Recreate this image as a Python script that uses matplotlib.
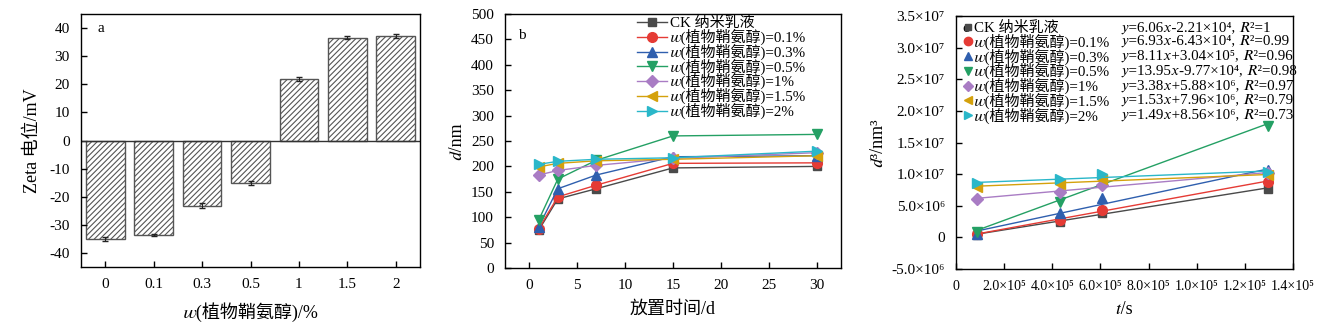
import numpy as np
import matplotlib
matplotlib.use('Agg')
import matplotlib.pyplot as plt
from matplotlib.lines import Line2D

plt.rcParams['font.family'] = ['Liberation Serif', 'STIXGeneral', 'DejaVu Serif', 'Noto Sans CJK SC']
plt.rcParams['hatch.linewidth'] = 0.8
plt.rcParams['hatch.color'] = '#333333'

# panel a: zeta potential
conc_labels = ['0', '0.1', '0.3', '0.5', '1', '1.5', '2']
zeta = [-35.2, -33.6, -23.2, -15.2, 21.8, 36.6, 37.2]
zeta_err = [0.7, 0.3, 0.9, 0.7, 0.8, 0.6, 0.8]

# panel b: particle size vs storage days
days = [1, 3, 7, 15, 30]
series_names = ['CK 纳米乳液', '𝑤(植物鞘氨醇)=0.1%', '𝑤(植物鞘氨醇)=0.3%',
                '𝑤(植物鞘氨醇)=0.5%', '𝑤(植物鞘氨醇)=1%', '𝑤(植物鞘氨醇)=1.5%',
                '𝑤(植物鞘氨醇)=2%']
d_ck = [74, 136, 156, 197, 200]
d_01 = [77, 140, 163, 206, 207]
d_03 = [81, 156, 183, 219, 221]
d_05 = [94, 175, 212, 260, 263]
d_1 = [183, 192, 202, 216, 227]
d_15 = [199, 206, 211, 214, 221]
d_2 = [204, 210, 214, 217, 230]
d_all = [d_ck, d_01, d_03, d_05, d_1, d_15, d_2]

# panel c: d^3 vs time (s)
t_sec = [86400, 432000, 604800, 1296000]
c_ck = [0.45e6, 2.5e6, 3.9e6, 7.7e6]
c_01 = [0.48e6, 2.75e6, 4.3e6, 8.8e6]
c_03 = [0.5e6, 3.8e6, 6.2e6, 10.7e6]
c_05 = [0.8e6, 5.55e6, 9.0e6, 17.6e6]
c_1 = [6.1e6, 7.15e6, 8.3e6, 10.1e6]
c_15 = [7.9e6, 8.5e6, 9.3e6, 9.9e6]
c_2 = [8.55e6, 9.2e6, 9.95e6, 10.3e6]
c_all = [c_ck, c_01, c_03, c_05, c_1, c_15, c_2]
slopes = [6.06, 6.93, 8.11, 13.95, 3.38, 1.53, 1.49]
intercepts = [-2.21e4, -6.43e4, 3.04e5, -9.77e4, 5.88e6, 7.96e6, 8.56e6]
equations = ['𝑦=6.06𝑥-2.21×10⁴, 𝑅²=1',
             '𝑦=6.93𝑥-6.43×10⁴, 𝑅²=0.99',
             '𝑦=8.11𝑥+3.04×10⁵, 𝑅²=0.96',
             '𝑦=13.95𝑥-9.77×10⁴, 𝑅²=0.98',
             '𝑦=3.38𝑥+5.88×10⁶, 𝑅²=0.97',
             '𝑦=1.53𝑥+7.96×10⁶, 𝑅²=0.79',
             '𝑦=1.49𝑥+8.56×10⁶, 𝑅²=0.73']
c_xticklabels = ['0', '2.0×10⁵', '4.0×10⁵', '6.0×10⁵', '8.0×10⁵', '1.0×10⁵', '1.2×10⁵', '1.4×10⁵']
c_yticklabels = ['-5.0×10⁶', '0', '5.0×10⁶', '1.0×10⁷', '1.5×10⁷', '2.0×10⁷', '2.5×10⁷',
                 '3.0×10⁷', '3.5×10⁷']

colors = ['#4a4a4a', '#e53b35', '#2f5fae', '#24a064', '#a97cc4', '#d4a10c', '#2ab7c9']
markers = ['s', 'o', '^', 'v', 'D', '<', '>']
msizes = [6, 7, 7, 7, 6, 7, 7]

fig = plt.figure(figsize=(13.25, 3.28), dpi=100)
W, H = 1325, 328
ax_a = fig.add_axes([81 / W, 1 - 267 / H, (420 - 81) / W, (267 - 14) / H])
ax_b = fig.add_axes([505 / W, 1 - 268 / H, (841 - 505) / W, (268 - 14) / H])
ax_c = fig.add_axes([956 / W, 1 - 269 / H, (1293 - 956) / W, (269 - 16) / H])

tick_fs = 11
leg_fs = 10.8

# ---- a ----
x = np.arange(len(conc_labels))
ax_a.bar(x, zeta, width=0.8, color='white', edgecolor='#555555', hatch='//////', linewidth=1)
ax_a.errorbar(x, zeta, yerr=zeta_err, fmt='none', ecolor='#222222', capsize=2.5, elinewidth=0.8)
ax_a.axhline(0, color='#333333', lw=1)
ax_a.set_xlim(-0.5, 6.5)
ax_a.set_ylim(-45, 45)
ax_a.set_yticks([40, 30, 20, 10, 0, -10, -20, -30, -40])
ax_a.set_yticklabels(['40', '30', '20', '10', '0', '-10', '-20', '-30', '-40'])
ax_a.set_xticks(x)
ax_a.set_xticklabels(conc_labels)
ax_a.set_xlabel('𝑤(植物鞘氨醇)/%', fontsize=13, labelpad=8)
ax_a.set_ylabel('Zeta 电位/mV', fontsize=13, labelpad=6)
ax_a.text(0.05, 0.93, 'a', transform=ax_a.transAxes, fontsize=11)

# ---- b ----
for i in range(len(d_all)):
    ax_b.plot(days, d_all[i], color=colors[i], marker=markers[i], ms=msizes[i], lw=1,
              label=series_names[i])
ax_b.set_xlim(-2.5, 32.5)
ax_b.set_ylim(0, 500)
ax_b.set_xticks([0, 5, 10, 15, 20, 25, 30])
ax_b.set_yticks(range(0, 501, 50))
ax_b.set_xlabel('放置时间/d', fontsize=13, labelpad=6)
ax_b.set_ylabel('𝑑/nm', fontsize=13, labelpad=4)
ax_b.text(0.04, 0.9, 'b', transform=ax_b.transAxes, fontsize=11)
ax_b.legend(loc='upper left', bbox_to_anchor=(0.37, 1.02), frameon=False, fontsize=leg_fs,
            handlelength=2.0, handletextpad=0.2, labelspacing=-0.1, borderaxespad=0.1)

# ---- c ----
xfit = np.array([t_sec[0], t_sec[-1]])
for i in range(len(c_all)):
    ax_c.plot(xfit, slopes[i] * xfit + intercepts[i], color=colors[i], lw=1)
    ax_c.plot(t_sec, c_all[i], ls='none', color=colors[i], marker=markers[i], ms=msizes[i])
ax_c.set_xlim(0, 1.4e6)
ax_c.set_ylim(-5e6, 3.5e7)
ax_c.set_xticks(np.arange(0, 1.41e6, 2e5))
ax_c.set_xticklabels(c_xticklabels)
ax_c.set_yticks(np.arange(-5e6, 3.51e7, 5e6))
ax_c.set_yticklabels(c_yticklabels)
ax_c.set_xlabel('𝑡/s', fontsize=13, labelpad=6)
ax_c.set_ylabel('𝑑³/nm³', fontsize=13, labelpad=4)
handles = [Line2D([], [], ls='none', color=colors[i], marker=markers[i], ms=msizes[i] - 1)
           for i in range(len(c_all))]
leg_c = ax_c.legend(handles, series_names, loc='upper left', bbox_to_anchor=(0.0, 1.01),
                    frameon=False, fontsize=leg_fs, handlelength=0.6, handletextpad=0.1,
                    labelspacing=-0.1, borderaxespad=0.1)
ax_c.text(0.018, 0.952, 'c', transform=ax_c.transAxes, fontsize=11, va='center')

for ax in (ax_a, ax_b, ax_c):
    ax.tick_params(labelsize=tick_fs, direction='in', length=4, width=1, pad=8)
    for s in ax.spines.values():
        s.set_linewidth(1)
ax_c.tick_params(axis='x', labelsize=10)

# line the fit equations up with the legend rows
fig.canvas.draw()
inv = ax_c.transAxes.inverted()
for txt, eq in zip(leg_c.get_texts(), equations):
    bb = txt.get_window_extent()
    yc = inv.transform((0, (bb.y0 + bb.y1) / 2))[1]
    ax_c.text(0.49, yc, eq, transform=ax_c.transAxes, fontsize=10.8, va='center')

fig.savefig('out.png', dpi=100)
